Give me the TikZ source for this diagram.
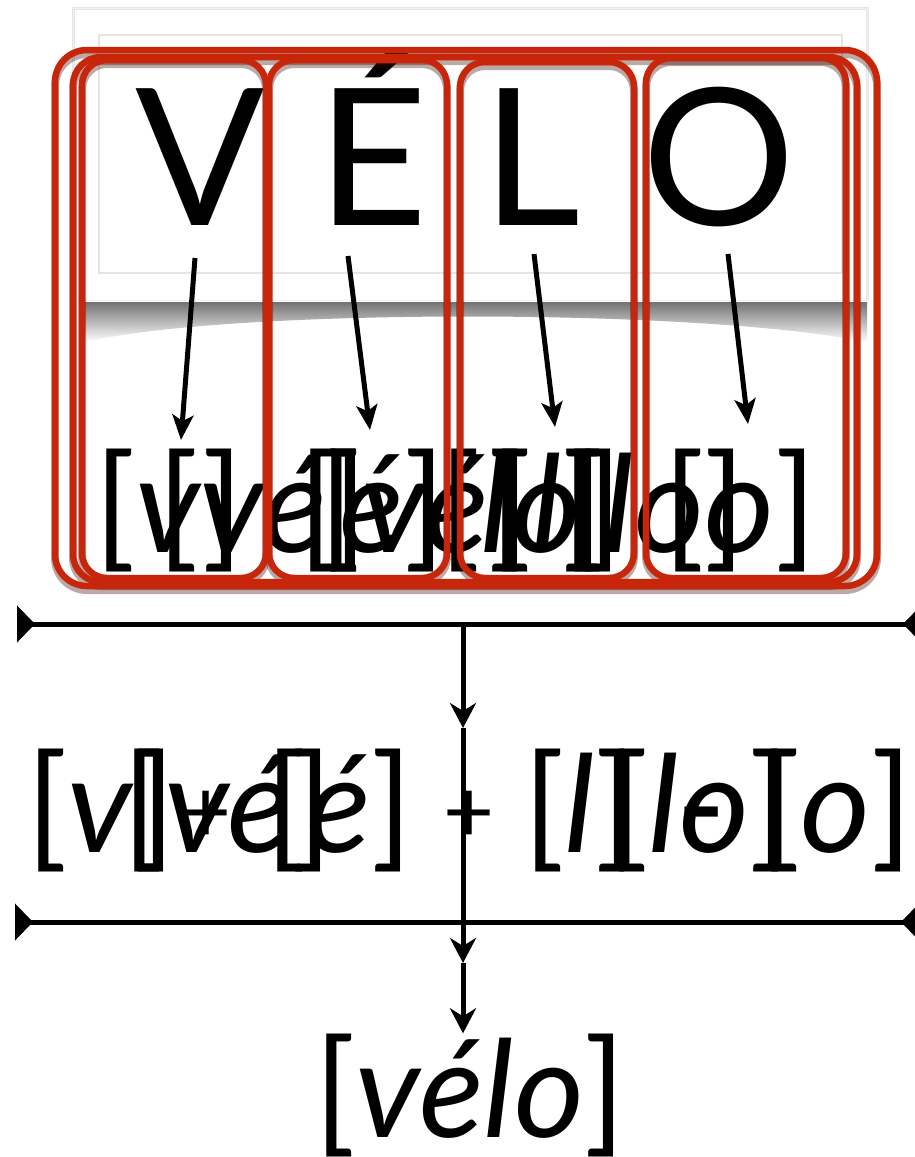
\documentclass[tikz,border=0pt]{standalone}
\usepackage{fontspec}
\setmainfont{Lato}
\usetikzlibrary{arrows.meta}
\definecolor{boxred}{RGB}{200,38,10}
\begin{document}
\begin{tikzpicture}[x=1pt,y=-1pt,
  redbox/.style={draw=boxred, line width=6.5pt, rounded corners=26pt},
  boxshadow/.style={draw=black!70!boxred, draw opacity=0.35, line width=8pt, rounded corners=26pt},
  big/.style={inner sep=0pt, font=\fontsize{191}{200}\selectfont, anchor=base},
  lbl/.style={inner sep=0pt, font=\fontsize{135}{140}\selectfont, anchor=base},
  plussign/.style={inner sep=0pt, font=\fontsize{88}{90}\selectfont, anchor=center},
  conn/.style={line width=5pt, -{Stealth[length=25pt,width=21pt,inset=6pt]}},
  vconn/.style={line width=5pt, -{Stealth[length=25pt,width=26pt,inset=8pt]}},
  bar/.style={line width=5pt, {Triangle[reversed,length=18pt,width=36pt]}-{Triangle[reversed,length=18pt,width=36pt]}},
]
\useasboundingbox (0,0) rectangle (915,1157);
\fill[white] (0,0) rectangle (915,1157);
% slide background
\draw[black!10, line width=3pt] (73,300) -- (73,8) -- (867,8) -- (867,300);
\draw[black!5, line width=1pt] (73,8) rectangle (867,300);
\draw[black!10, line width=1.2pt] (99,35) rectangle (842,273);
\shade[top color=black!55, bottom color=white] (85,302) -- (867,302) -- (867,342) .. controls (700,308) and (230,308) .. (85,342) -- cycle;
% big letters
\node[big] (V) at (200,225) {V};
\node[big] (E) at (373,225) {É};
\node[big] (L) at (532,225) {L};
\node[big] (O) at (719,225) {O};
% top label row
\node[lbl] (ta) at (169,552) {[\textit{v}]};
\node[lbl] (tb) at (263,552) {[\textit{vé}]};
\node[lbl] (tc) at (372,552) {[\textit{é}]};
\node[lbl] (td) at (425,552) {[\textit{vé}]};
\node[lbl] (te) at (531,552) {[\textit{lo}]};
\node[lbl] (tf) at (547,552) {[\textit{l}]};
\node[lbl] (tg) at (654,552) {[\textit{lo}]};
\node[lbl] (th) at (740,552) {[\textit{o}]};
% red boxes: shadows
\foreach \a/\b/\c/\d/\r in {55/50/877/586/32, 73/57/857/582/28, 82/60/266/578/25, 269/60/447/578/25, 460/62/634/578/25, 646/58/846/578/25}{
  \draw[boxshadow, rounded corners=\r pt, shift={(0,4)}] (\a,\b) rectangle (\c,\d);
}
\foreach \a/\b/\c/\d/\r in {55/50/877/586/32, 73/57/857/582/28, 82/60/266/578/25, 269/60/447/578/25, 460/62/634/578/25, 646/58/846/578/25}{
  \draw[redbox, rounded corners=\r pt] (\a,\b) rectangle (\c,\d);
}
% arrows letters -> sounds
\coordinate (Vs) at (195,258); \coordinate (Vt) at (181,440);
\coordinate (Es) at (348,256); \coordinate (Et) at (370,430);
\coordinate (Ls) at (534,254); \coordinate (Lt) at (555,427);
\coordinate (Os) at (728,254); \coordinate (Ot) at (748,424);
\draw[conn] (Vs) -- (Vt);
\draw[conn] (Es) -- (Et);
\draw[conn] (Ls) -- (Lt);
\draw[conn] (Os) -- (Ot);
% middle row
\node[lbl] (ma) at (101,852) {[\textit{v}]};
\node[lbl] (mb) at (228,852) {[\textit{vé}]};
\node[lbl] (mc) at (339,852) {[\textit{é}]};
\node[plussign] (mp1) at (206,817) {+};
\node[plussign] (mp2) at (469,817) {+};
\node[lbl] (md) at (580,852) {[\textit{l}]};
\node[lbl] (me) at (699,852) {[\textit{lo}]};
\node[lbl] (mm) at (702,852) {-};
\node[lbl] (mf) at (836,852) {[\textit{o}]};
% bottom result
\node[lbl] (velo) at (470,1137) {[\textit{vélo}]};
% bars
\coordinate (l1a) at (17,624); \coordinate (l1b) at (921,624);
\coordinate (l2a) at (15,922); \coordinate (l2b) at (919,922);
\draw[bar] (l1a) -- (l1b);
\draw[bar] (l2a) -- (l2b);
% vertical flow
\coordinate (v0) at (463,624);
\coordinate (v1) at (463,728);
\coordinate (v2) at (463,963);
\draw[vconn] (v0) -- (v1);
\draw[vconn] (v1) -- (v2);
\draw[vconn] (v2) -- (v2 |- velo.north);
\end{tikzpicture}
\end{document}
